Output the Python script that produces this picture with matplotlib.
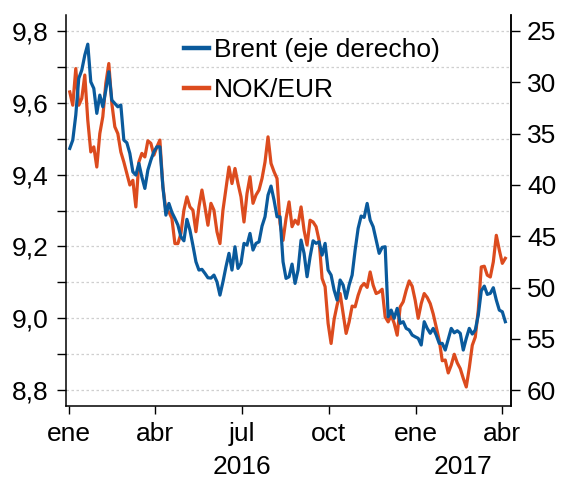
import matplotlib
matplotlib.use('Agg')
import matplotlib.pyplot as plt
import matplotlib.transforms as mtransforms
from matplotlib.ticker import FuncFormatter
import numpy as np
import pandas as pd

plt.rcParams['font.family'] = ['Liberation Sans', 'DejaVu Sans']

# sampled roughly every 3 days, Jan 2016 - Apr 2017
dates = pd.date_range('2016-01-02', '2017-04-05', periods=146)

# Brent (USD/barrel, right axis, inverted)
brent = [
    36.45, 35.64, 33.21, 29.63, 28.83, 27.37, 26.30, 29.97, 30.61, 33.04,
    31.26, 32.40, 30.77, 28.99, 31.75, 32.07, 32.40, 32.23, 35.64, 35.90,
    36.94, 38.73, 39.05, 37.91, 39.22, 40.35, 38.56, 37.59, 36.78, 36.30,
    36.30,
    40.19, 42.95, 41.81, 42.68, 43.27, 43.92, 45.06, 45.45, 43.36, 44.41,
    45.90, 47.49, 48.30, 48.23, 48.62, 49.05, 49.08, 48.79, 49.44, 50.74,
    49.44, 47.98, 46.67, 48.30, 46.03, 48.14, 47.65, 45.70, 45.87, 44.73,
    46.35,
    45.70, 45.55, 44.02, 43.11, 41.00, 40.12, 41.48, 43.11, 43.11, 47.49,
    49.11, 48.95, 47.72, 49.60, 48.30, 45.38, 46.67, 48.95, 47.01, 45.45,
    45.70, 45.55, 46.84, 45.70, 48.30, 48.79, 50.25, 51.22, 49.27, 49.76,
    51.06, 49.76, 48.79, 46.35, 44.24, 43.04, 43.17, 41.81, 43.43, 44.08,
    45.38, 46.67, 46.09, 46.03, 52.85, 52.20, 53.00, 52.03, 53.49, 53.33,
    53.98, 54.14, 54.63, 54.80, 54.95, 55.60, 53.33, 53.98, 54.46, 53.98,
    54.63, 55.44, 55.44, 56.09, 55.05, 53.98, 54.41, 54.21, 54.46, 56.09,
    54.95, 53.98, 54.53, 54.14, 52.68, 50.32, 49.86, 50.67, 50.57, 50.02,
    51.22, 52.20, 52.36, 53.33,
]

# NOK per EUR (left axis)
nok_eur = [
    9.630, 9.593, 9.695, 9.593, 9.612, 9.677, 9.551, 9.463, 9.477, 9.421,
    9.514, 9.561, 9.654, 9.709, 9.598, 9.533, 9.514, 9.463, 9.435, 9.403,
    9.371, 9.384, 9.310, 9.435, 9.459, 9.449, 9.494, 9.487, 9.454, 9.477,
    9.496,
    9.366, 9.301, 9.296, 9.278, 9.208, 9.208, 9.236, 9.301, 9.338, 9.310,
    9.301, 9.241, 9.310, 9.357, 9.310, 9.259, 9.320, 9.301, 9.241, 9.208,
    9.301, 9.361, 9.421, 9.375, 9.417, 9.375, 9.338, 9.268, 9.347, 9.394,
    9.320,
    9.343, 9.357, 9.389, 9.435, 9.505, 9.431, 9.408, 9.389, 9.264, 9.217,
    9.278, 9.324, 9.255, 9.273, 9.262, 9.310, 9.245, 9.204, 9.273, 9.268,
    9.255, 9.217, 9.111, 9.088, 8.986, 8.930, 8.997, 9.037, 9.069, 9.013,
    8.958, 8.990, 9.034, 9.032, 9.064, 9.088, 9.097, 9.086, 9.129, 9.092,
    9.069, 9.073, 9.081, 9.004, 8.990, 9.009, 8.986, 8.953, 9.032, 9.046,
    9.078, 9.104, 9.089, 9.050, 9.000, 9.041, 9.069, 9.058, 9.041, 9.012,
    8.976, 8.939, 8.882, 8.884, 8.848, 8.870, 8.900, 8.876, 8.860, 8.833,
    8.809, 8.862, 8.925, 8.948, 9.023, 9.143, 9.145, 9.120, 9.115, 9.157,
    9.231, 9.190, 9.153, 9.167,
]

month_ticks = pd.to_datetime(['2016-01-01', '2016-04-01', '2016-07-01',
                              '2016-10-01', '2017-01-01', '2017-04-01'])
month_labels = ['ene', 'abr', 'jul', 'oct', 'ene', 'abr']
year_labels = ['2016', '2017']
year_pos = pd.to_datetime(['2016-07-01', '2017-02-19'])

left_ticks = np.round(np.arange(8.8, 9.81, 0.1), 1)
right_ticks = [25, 30, 35, 40, 45, 50, 55, 60]

BLUE = '#0a5a9c'
ORANGE = '#dc4b1e'
FS = 19

fig = plt.figure(figsize=(5.61, 4.78), dpi=100)
ax = fig.add_axes([0.1176, 0.1506, 0.7933, 0.818])
ax2 = ax.twinx()

ax.plot(dates, nok_eur, color=ORANGE, lw=2.3, label='NOK/EUR')
ax2.plot(dates, brent, color=BLUE, lw=2.3, label='Brent (eje derecho)')

ax.set_xlim(pd.Timestamp('2015-12-29'), pd.Timestamp('2017-04-11'))
ax.set_ylim(8.756, 9.844)
# right axis aligned so 25 <-> 9,8 and 60 <-> 8,8, inverted
ax2.set_ylim(25 + 35 * (9.8 - 8.756), 25 + 35 * (9.8 - 9.844))

ax.set_yticks(left_ticks)
ax.yaxis.set_major_formatter(FuncFormatter(
    lambda v, p: (f'{v:.1f}'.replace('.', ',') if round(v * 10) % 2 == 0 else '')))
ax2.set_yticks(right_ticks)

ax.set_xticks(month_ticks)
ax.set_xticklabels(month_labels)

ax.grid(axis='y', color='#cfcfcf', linestyle=(0, (2, 2)), lw=0.9)
ax.set_axisbelow(True)

for a in (ax, ax2):
    a.spines['top'].set_visible(False)
    for s in a.spines.values():
        s.set_linewidth(1.1)
ax2.spines['left'].set_visible(False)
ax2.spines['bottom'].set_visible(False)

ax.tick_params(axis='y', direction='out', length=6.5, width=1, labelsize=FS, pad=6)
ax.tick_params(axis='x', direction='out', length=5.5, width=1, labelsize=FS, pad=6)
ax2.tick_params(axis='y', direction='out', length=6.5, width=1, labelsize=FS, pad=5)

trans = mtransforms.blended_transform_factory(ax.transData, ax.transAxes)
for pos, lab in zip(year_pos, year_labels):
    ax.text(pos, -0.156, lab, transform=trans, ha='center', va='center', fontsize=FS)

h1, l1 = ax2.get_legend_handles_labels()
h2, l2 = ax.get_legend_handles_labels()
leg = ax2.legend(h1 + h2, l1 + l2, loc='upper left', bbox_to_anchor=(0.266, 0.94),
                 frameon=False, fontsize=FS, handlelength=0.95, handletextpad=0.18,
                 labelspacing=0.6, borderpad=0, borderaxespad=0)
for line in leg.get_lines():
    line.set_linewidth(3.2)

fig.savefig('out.png', dpi=100)
